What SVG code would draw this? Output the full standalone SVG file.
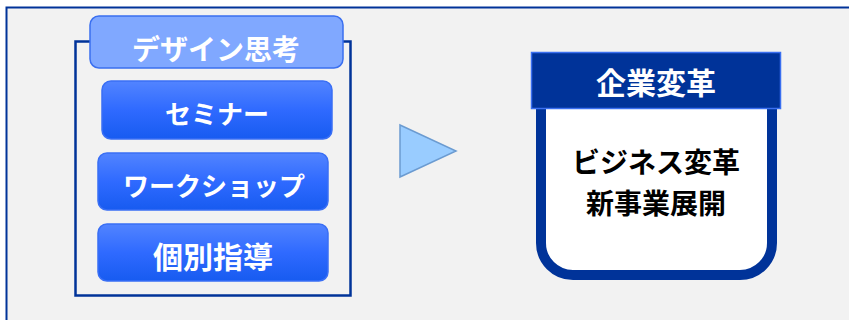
<svg xmlns="http://www.w3.org/2000/svg" width="849" height="320" viewBox="0 0 849 320">
  <defs>
    <linearGradient id="btn" x1="0" y1="0" x2="0" y2="1">
      <stop offset="0" stop-color="#5284ff"/>
      <stop offset="0.5" stop-color="#2f6aff"/>
      <stop offset="1" stop-color="#175bf0"/>
    </linearGradient>
    <style>
      text { font-family: "Noto Sans CJK JP", "Noto Sans", sans-serif; font-weight: bold; text-anchor: middle; }
      .w { fill: #ffffff; }
      .k { fill: #000000; }
      .btn { fill: url(#btn); stroke: #3a6ff5; stroke-width: 1.5; }
    </style>
  </defs>
  <rect x="0" y="0" width="849" height="320" fill="#ffffff"/>
  <rect id="frame" x="6.5" y="7.5" width="900" height="400" fill="#f2f2f2" stroke="#003399" stroke-width="2"/>

  <g id="design-thinking">
    <rect x="75.5" y="41.5" width="275" height="254" fill="#f2f2f2" stroke="#003399" stroke-width="2.5"/>
    <rect x="90" y="16" width="253" height="52" rx="9" fill="#80a8ff" stroke="#3a6ff0" stroke-width="1.5"/>
    <text class="w" x="216" y="60" font-size="28">デザイン思考</text>
  </g>
  <g id="seminar">
    <rect class="btn" x="102" y="81" width="230" height="58" rx="9"/>
    <text class="w" x="217" y="124" font-size="26">セミナー</text>
  </g>
  <g id="workshop">
    <rect class="btn" x="98" y="153" width="230" height="57" rx="9"/>
    <text class="w" x="214" y="196" font-size="26">ワークショップ</text>
  </g>
  <g id="coaching">
    <rect class="btn" x="98" y="224" width="230" height="57" rx="9"/>
    <text class="w" x="213" y="268" font-size="30">個別指導</text>
  </g>

  <g id="connectors">
    <polygon points="400,125 456,151 400,177" fill="#99ccff" stroke="#6b9bd1" stroke-width="1.5"/>
  </g>

  <g id="transformation">
    <rect x="541" y="70" width="231" height="205" rx="32" fill="#ffffff" stroke="#003399" stroke-width="10"/>
    <rect x="531.5" y="52.5" width="249" height="56" fill="#003399" stroke="#3a6ff0" stroke-width="1.5"/>
    <text class="w" x="656" y="94" font-size="30">企業変革</text>
    <text class="k" x="656" y="173" font-size="28">ビジネス変革</text>
    <text class="k" x="656" y="214" font-size="28">新事業展開</text>
  </g>
</svg>
